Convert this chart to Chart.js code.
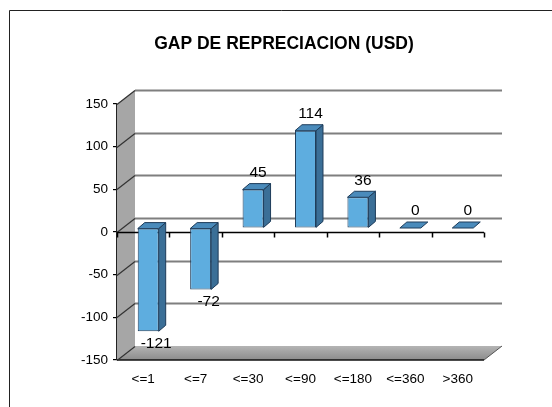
<!DOCTYPE html>
<html>
<head>
<meta charset="utf-8">
<script src="https://cdn.jsdelivr.net/npm/chart.js@4/dist/chart.umd.min.js"></script>
<style>
  html, body { margin: 0; padding: 0; background: #ffffff; }
  #wrap { width: 552px; height: 407px; }
</style>
</head>
<body>
<div id="wrap"><canvas id="c" width="552" height="407"></canvas></div>
<script>
const chartTitle = 'GAP DE REPRECIACION (USD)';
const categories = ['<=1', '<=7', '<=30', '<=90', '<=180', '<=360', '>360'];
const values = [-121, -72, 45, 114, 36, 0, 0];
const yRange = [-150, 150];
const yStep = [50];

const FONT = 'Liberation Sans, Arial, sans-serif';
const WALL = { dx: 18, dy: -14 };
const BARPLANE = { dx: 5, dy: -4 };
const BARDEPTH = { dx: 7, dy: -6 };

const frameAndTitle = {
  id: 'frameAndTitle',
  beforeDraw(chart) {
    const ctx = chart.ctx;
    ctx.save();
    ctx.fillStyle = '#ffffff';
    ctx.fillRect(0, 0, chart.width, chart.height);
    ctx.strokeStyle = '#222222';
    ctx.lineWidth = 1;
    ctx.beginPath();
    ctx.moveTo(9.5, chart.height + 2);
    ctx.lineTo(9.5, 10.5);
    ctx.lineTo(chart.width + 2, 10.5);
    ctx.stroke();
    ctx.restore();
  },
  afterDraw(chart) {
    const ctx = chart.ctx;
    ctx.save();
    ctx.fillStyle = '#000000';
    ctx.font = 'bold 17.5px ' + FONT;
    ctx.textAlign = 'center';
    ctx.textBaseline = 'middle';
    ctx.fillText(chartTitle, 284, 44);
    ctx.restore();
  }
};

const walls = {
  id: 'walls',
  beforeDatasetsDraw(chart) {
    const ctx = chart.ctx;
    const { left, right, top, bottom } = chart.chartArea;
    const ys = chart.scales.y, xs = chart.scales.x;
    ctx.save();
    // left wall
    ctx.fillStyle = '#a6a6a6';
    ctx.beginPath();
    ctx.moveTo(left, top);
    ctx.lineTo(left + WALL.dx, top + WALL.dy);
    ctx.lineTo(left + WALL.dx, bottom + WALL.dy);
    ctx.lineTo(left, bottom);
    ctx.closePath();
    ctx.fill();
    // floor
    const g = ctx.createLinearGradient(0, bottom + WALL.dy, 0, bottom);
    g.addColorStop(0, '#b4b4b4');
    g.addColorStop(1, '#8c8c8c');
    ctx.fillStyle = g;
    ctx.beginPath();
    ctx.moveTo(left, bottom);
    ctx.lineTo(left + WALL.dx, bottom + WALL.dy);
    ctx.lineTo(right + WALL.dx, bottom + WALL.dy);
    ctx.lineTo(right, bottom);
    ctx.closePath();
    ctx.fill();
    ctx.strokeStyle = '#555555';
    ctx.lineWidth = 1;
    ctx.beginPath();
    ctx.moveTo(right, bottom);
    ctx.lineTo(right + WALL.dx, bottom + WALL.dy);
    ctx.stroke();
    ctx.strokeStyle = '#111111';
    ctx.lineWidth = 1.5;
    ctx.beginPath();
    ctx.moveTo(left, bottom);
    ctx.lineTo(right, bottom);
    ctx.stroke();
    // gridlines on left wall and back wall
    ys.ticks.forEach(t => {
      const y = Math.round(ys.getPixelForValue(t.value)) + 0.5;
      if (t.value !== yRange[0]) {
        ctx.strokeStyle = '#7f7f7f';
        ctx.lineWidth = 2;
        ctx.beginPath();
        ctx.moveTo(left + WALL.dx, y + WALL.dy);
        ctx.lineTo(right + WALL.dx, y + WALL.dy);
        ctx.stroke();
      }
      ctx.strokeStyle = '#333333';
      ctx.lineWidth = 1.2;
      ctx.beginPath();
      ctx.moveTo(left, y);
      ctx.lineTo(left + WALL.dx, y + WALL.dy);
      ctx.stroke();
    });
    // category axis at zero
    const y0 = Math.round(ys.getPixelForValue(0)) + 0.5;
    ctx.strokeStyle = '#000000';
    ctx.lineWidth = 1.5;
    ctx.beginPath();
    ctx.moveTo(left, y0);
    ctx.lineTo(right, y0);
    ctx.stroke();
    for (let i = 0; i <= categories.length; i++) {
      const x = Math.round(xs.getPixelForValue(i - 0.5)) + 0.5;
      ctx.beginPath();
      ctx.moveTo(x, y0);
      ctx.lineTo(x, y0 + 5);
      ctx.stroke();
    }
    ctx.restore();
  },
  beforeDatasetDraw(chart) {
    chart.ctx.save();
    chart.ctx.translate(BARPLANE.dx, BARPLANE.dy);
  },
  afterDatasetDraw(chart, args) {
    const ctx = chart.ctx;
    const meta = args.meta;
    meta.data.forEach(bar => {
      const p = bar.getProps(['x', 'y', 'base', 'width'], true);
      const xl = p.x - p.width / 2, xr = p.x + p.width / 2;
      const yt = Math.min(p.y, p.base), yb = Math.max(p.y, p.base);
      ctx.strokeStyle = '#1e3c5a';
      ctx.lineWidth = 1;
      if (yb - yt > 0.5) {
        ctx.fillStyle = '#3b6f97';
        ctx.beginPath();
        ctx.moveTo(xr, yt);
        ctx.lineTo(xr + BARDEPTH.dx, yt + BARDEPTH.dy);
        ctx.lineTo(xr + BARDEPTH.dx, yb + BARDEPTH.dy);
        ctx.lineTo(xr, yb);
        ctx.closePath();
        ctx.fill();
        ctx.stroke();
      }
      ctx.fillStyle = '#4a8bbb';
      ctx.beginPath();
      ctx.moveTo(xl, yt);
      ctx.lineTo(xl + BARDEPTH.dx, yt + BARDEPTH.dy);
      ctx.lineTo(xr + BARDEPTH.dx, yt + BARDEPTH.dy);
      ctx.lineTo(xr, yt);
      ctx.closePath();
      ctx.fill();
      ctx.stroke();
    });
    ctx.restore();
  },
  afterDatasetsDraw(chart) {
    const ctx = chart.ctx;
    const meta = chart.getDatasetMeta(0);
    ctx.save();
    ctx.fillStyle = '#000000';
    ctx.font = '15.5px ' + FONT;
    ctx.textAlign = 'center';
    ctx.textBaseline = 'middle';
    meta.data.forEach((bar, i) => {
      const v = values[i];
      const p = bar.getProps(['x', 'y', 'base'], true);
      const x = p.x + BARPLANE.dx + (v < 0 ? 8 : 5);
      const y = v < 0 ? p.y + BARPLANE.dy + 12 : p.y + BARPLANE.dy - 17;
      ctx.fillText(String(v), x, y);
    });
    ctx.restore();
  }
};

new Chart(document.getElementById('c'), {
  type: 'bar',
  data: {
    labels: categories,
    datasets: [{
      data: values,
      backgroundColor: '#5eaddf',
      borderColor: '#1e3c5a',
      borderWidth: 1,
      borderSkipped: false,
      barPercentage: 0.4,
      categoryPercentage: 1
    }]
  },
  options: {
    responsive: false,
    animation: false,
    devicePixelRatio: 1,
    layout: { padding: { left: 0, top: 104, right: 68, bottom: 0 } },
    plugins: { legend: { display: false }, title: { display: false }, tooltip: { enabled: false } },
    scales: {
      x: {
        grid: { display: false, drawTicks: false },
        border: { display: false },
        ticks: { color: '#000000', font: { family: FONT, size: 13.5 }, padding: 11, maxRotation: 0, autoSkip: false },
        afterFit(s) { s.height = 47; }
      },
      y: {
        min: yRange[0],
        max: yRange[1],
        ticks: { stepSize: yStep[0], color: '#000000', font: { family: FONT, size: 13.5 }, padding: 5 },
        grid: { drawOnChartArea: false, tickLength: 4, color: '#000000', lineWidth: 1.2 },
        border: { display: true, color: '#222222', width: 1.2 },
        afterFit(s) { s.width = 117; }
      }
    }
  },
  plugins: [frameAndTitle, walls]
});
</script>
</body>
</html>
